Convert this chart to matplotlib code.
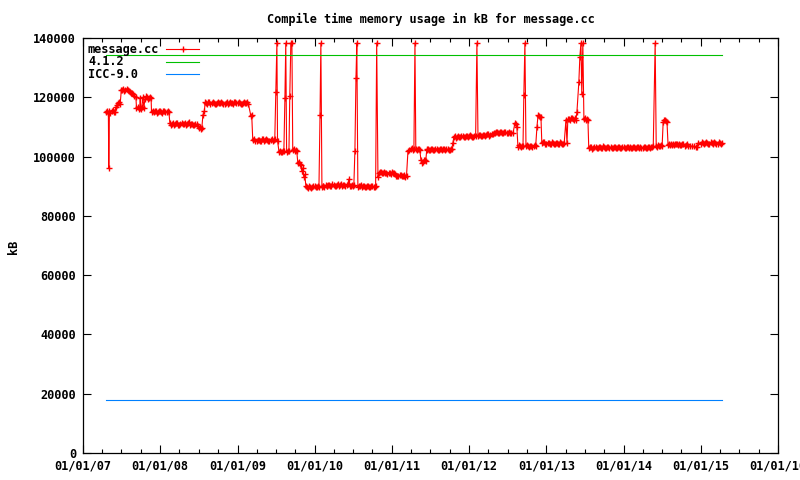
import matplotlib
matplotlib.use("Agg")
import matplotlib.pyplot as plt
import matplotlib.dates as mdates
from matplotlib.font_manager import FontProperties
import pandas as pd

# ---------------- data (message.cc, month-day per year, kB) ----------------
md_2007 = ['04-21', '04-26', '05-01', '05-03', '05-06', '05-11',
           '05-16', '05-21', '05-26', '06-01', '06-06', '06-11',
           '06-16', '06-21', '06-26', '07-01', '07-06', '07-11',
           '07-16', '07-21', '07-26', '08-01', '08-06', '08-11',
           '08-16', '08-21', '08-26', '09-01', '09-08', '09-11',
           '09-16', '09-21', '09-26', '09-29', '10-01', '10-06',
           '10-11', '10-16', '10-21', '10-26', '11-01', '11-06',
           '11-11', '11-16', '11-19', '11-21', '11-26', '12-01',
           '12-06', '12-11', '12-16', '12-21', '12-26']
mv_2007 = [115000, 115400, 114600, 96000, 115500, 114800,
           115300, 115600, 114900, 115200, 116800, 117500,
           118200, 118500, 117800, 122300, 122600, 122800,
           122200, 122400, 122900, 122600, 122100, 121900,
           121600, 121300, 121000, 120600, 120200, 116500,
           116800, 116000, 116400, 119800, 116200, 116600,
           120000, 116500, 119500, 120300, 120000, 119400,
           119600, 120100, 119800, 115200, 115500, 115000,
           115300, 115400, 114800, 114900, 115400]

md_2008 = ['01-01', '01-06', '01-11', '01-16', '01-21', '01-26',
           '02-01', '02-06', '02-11', '02-16', '02-21', '02-26',
           '03-01', '03-06', '03-11', '03-16', '03-21', '03-26',
           '04-01', '04-06', '04-11', '04-16', '04-21', '04-26',
           '05-01', '05-06', '05-11', '05-16', '05-21', '05-26',
           '06-01', '06-06', '06-11', '06-16', '06-21', '06-26',
           '07-01', '07-06', '07-11', '07-16', '07-21', '07-28',
           '08-01', '08-06', '08-11', '08-16', '08-21', '08-26',
           '09-01', '09-06', '09-11', '09-16', '09-21', '09-26',
           '10-01', '10-06', '10-11', '10-16', '10-21', '10-26',
           '11-01', '11-06', '11-11', '11-16', '11-21', '11-26',
           '12-01', '12-06', '12-11', '12-16', '12-21', '12-26']
mv_2008 = [115300, 115000, 114800, 115400, 115300, 114900,
           115000, 115400, 115200, 111200, 110800, 111100,
           111300, 110800, 110900, 111400, 111200, 110800,
           110700, 111100, 111400, 110900, 111000, 111300,
           110600, 111000, 111200, 111500, 110800, 111000,
           111100, 110800, 110700, 111000, 110900, 110400,
           109600, 110000, 109300, 109500, 114000, 115500,
           118300, 118000, 117900, 118300, 118400, 117900,
           118000, 118400, 118200, 117800, 117800, 118200,
           118300, 118000, 118000, 118400, 118200, 117900,
           117900, 118200, 118300, 117900, 118000, 118300,
           118200, 118000, 117900, 118400, 118300, 118000]

md_2009 = ['01-01', '01-06', '01-11', '01-16', '01-21', '01-26',
           '02-01', '02-06', '02-11', '02-16', '02-21', '03-05',
           '03-09', '03-14', '03-21', '03-26', '04-01', '04-06',
           '04-11', '04-16', '04-21', '04-26', '05-01', '05-06',
           '05-11', '05-16', '05-21', '05-26', '06-01', '06-06',
           '06-11', '06-16', '06-21', '06-26', '07-01', '07-06',
           '07-09', '07-16', '07-21', '07-26', '08-01', '08-04',
           '08-08', '08-13', '08-17', '08-21', '08-26', '09-01',
           '09-05', '09-10', '09-15', '09-19', '09-24', '09-29',
           '10-04', '10-08', '10-13', '10-18', '10-22', '10-27',
           '11-01', '11-06', '11-10', '11-15', '11-20', '11-25',
           '12-01', '12-06', '12-11', '12-16', '12-21', '12-26']
mv_2009 = [118000, 118300, 118200, 117800, 117900, 118200,
           118300, 118000, 118000, 118300, 117800, 113700,
           113900, 105500, 105800, 105400, 105300, 105700,
           105700, 105300, 105400, 105800, 105900, 105400,
           105500, 105900, 105600, 105300, 105300, 105700,
           105800, 105400, 105500, 105800, 121700, 138300,
           105400, 101600, 101900, 101500, 101400, 101900,
           101800, 119800, 138300, 101500, 102000, 101900,
           120500, 138300, 138300, 102200, 102400, 102000,
           102300, 101800, 97900, 98300, 97500, 97200,
           95000, 96200, 93200, 94000, 90000, 89800,
           89500, 90000, 89800, 89400, 89600, 90000]

md_2010 = ['01-01', '01-06', '01-11', '01-16', '01-21', '01-26',
           '01-30', '02-04', '02-08', '02-11', '02-16', '02-21',
           '02-26', '03-01', '03-06', '03-11', '03-16', '03-21',
           '03-26', '04-01', '04-06', '04-11', '04-16', '04-21',
           '04-26', '05-01', '05-06', '05-11', '05-16', '05-21',
           '05-26', '06-01', '06-06', '06-12', '06-16', '06-21',
           '06-26', '07-01', '07-05', '07-10', '07-15', '07-19',
           '07-24', '07-28', '08-01', '08-06', '08-11', '08-16',
           '08-21', '08-26', '09-01', '09-06', '09-11', '09-16',
           '09-21', '09-26', '10-01', '10-06', '10-11', '10-16',
           '10-21', '10-27', '11-01', '11-06', '11-11', '11-16',
           '11-21', '11-26', '12-01', '12-06', '12-11', '12-16',
           '12-21', '12-26']
mv_2010 = [90000, 89600, 89700, 90100, 89900, 114000,
           138300, 89800, 90200, 90100, 89900, 90300,
           90000, 90000, 90400, 90500, 90100, 90200,
           90600, 90400, 90000, 90100, 90500, 90600,
           90200, 90300, 90700, 90100, 90400, 90500,
           90100, 90300, 90600, 92400, 90200, 90200,
           90500, 90000, 90300, 102000, 126500, 138300,
           89800, 90200, 90000, 90300, 89700, 90000,
           90100, 89700, 89800, 90200, 90000, 89600,
           89700, 90100, 90100, 89800, 89900, 90200,
           138300, 93000, 94500, 94900, 94700, 94300,
           94300, 94700, 94600, 94300, 94200, 94600,
           94400, 94100]

md_2011 = ['01-01', '01-06', '01-11', '01-16', '01-21', '01-26',
           '02-01', '02-06', '02-11', '02-16', '02-21', '02-26',
           '03-01', '03-06', '03-11', '03-18', '03-24', '04-01',
           '04-05', '04-10', '04-15', '04-20', '04-24', '05-01',
           '05-05', '05-09', '05-13', '05-18', '05-22', '05-27',
           '06-01', '06-06', '06-10', '06-15', '06-18', '06-21',
           '06-26', '07-01', '07-06', '07-11', '07-16', '07-21',
           '07-26', '08-01', '08-06', '08-11', '08-16', '08-21',
           '08-26', '09-01', '09-06', '09-11', '09-16', '09-21',
           '09-26', '10-01', '10-06', '10-11', '10-16', '10-21',
           '10-26', '11-01', '11-06', '11-11', '11-16', '11-21',
           '11-26', '12-01', '12-06', '12-11', '12-16', '12-21',
           '12-26']
mv_2011 = [94700, 94300, 94400, 94000, 93600, 93300,
           93400, 93800, 93700, 93300, 93300, 93700,
           93600, 93200, 93400, 102000, 102300, 102500,
           102800, 102200, 102500, 138300, 102600, 102300,
           102700, 102600, 102100, 99000, 98000, 98300,
           98700, 99000, 98500, 102400, 102200, 102600,
           102300, 102200, 102600, 102500, 102100, 102300,
           102700, 102600, 102200, 102300, 102700, 102600,
           102200, 102400, 102700, 102200, 102400, 102500,
           102100, 102300, 102600, 102500, 104500, 106500,
           106800, 106400, 106700, 106900, 106500, 106700,
           107100, 107000, 106700, 106600, 107000, 107100,
           106700]

md_2012 = ['01-01', '01-06', '01-11', '01-16', '01-21', '01-26',
           '02-01', '02-07', '02-12', '02-16', '02-21', '02-26',
           '03-01', '03-06', '03-11', '03-16', '03-21', '03-26',
           '04-01', '04-06', '04-11', '04-16', '04-21', '04-26',
           '05-01', '05-06', '05-11', '05-16', '05-21', '05-26',
           '06-01', '06-06', '06-11', '06-16', '06-21', '06-26',
           '07-01', '07-06', '07-11', '07-19', '07-27', '08-05',
           '08-10', '08-14', '08-19', '08-24', '08-29', '09-03',
           '09-07', '09-12', '09-16', '09-21', '09-26', '10-01',
           '10-06', '10-11', '10-16', '10-21', '10-26', '11-01',
           '11-06', '11-11', '11-17', '11-22', '11-26', '12-01',
           '12-06', '12-10', '12-16', '12-21', '12-26']
mv_2012 = [106800, 107200, 107000, 106600, 106700, 107100,
           107100, 138300, 107000, 107400, 107300, 106900,
           107000, 107400, 107400, 107000, 107200, 107600,
           107500, 107100, 107200, 107700, 107600, 107900,
           107900, 108400, 108300, 107900, 108000, 108400,
           108200, 107900, 108000, 108400, 108300, 108000,
           108000, 108300, 108100, 108000, 108000, 111400,
           111000, 110000, 103300, 103800, 103600, 103200,
           103400, 103700, 120800, 138300, 103500, 103800,
           103400, 103300, 103700, 103700, 103300, 103400,
           103800, 103600, 110000, 113900, 113700, 113300,
           113200, 104500, 104900, 104800, 104400]

md_2013 = ['01-01', '01-06', '01-11', '01-16', '01-21', '01-26',
           '02-01', '02-06', '02-11', '02-16', '02-21', '02-26',
           '03-01', '03-06', '03-11', '03-16', '03-21', '03-26',
           '04-03', '04-08', '04-12', '04-17', '04-22', '04-27',
           '05-01', '05-06', '05-11', '05-16', '05-20', '05-25',
           '06-03', '06-08', '06-13', '06-17', '06-22', '06-27',
           '07-01', '07-06', '07-11', '07-16', '07-20', '07-25',
           '08-01', '08-06', '08-11', '08-16', '08-21', '08-26',
           '09-01', '09-06', '09-11', '09-16', '09-21', '09-26',
           '10-01', '10-06', '10-11', '10-16', '10-21', '10-26',
           '11-01', '11-06', '11-11', '11-16', '11-21', '11-26',
           '12-01', '12-06', '12-11', '12-16', '12-21', '12-26']
mv_2013 = [104300, 104700, 104700, 104300, 104400, 104800,
           104600, 104200, 104300, 104700, 104700, 104300,
           104400, 104800, 104600, 104200, 104300, 104700,
           112300, 104500, 112600, 112800, 112400, 112900,
           113000, 112600, 112500, 112900, 112300, 115000,
           125000, 133700, 138300, 121000, 138300, 112700,
           112900, 112300, 112700, 112500, 102800, 103200,
           103100, 102700, 102900, 103300, 103300, 102800,
           102800, 103200, 103200, 102800, 103000, 103400,
           103300, 102900, 102900, 103300, 103100, 102800,
           103200, 103000, 102900, 103300, 103100, 102800,
           103000, 103300, 103300, 102900, 102900, 103200]

md_2014 = ['01-01', '01-06', '01-11', '01-16', '01-21', '01-26',
           '02-01', '02-06', '02-11', '02-16', '02-21', '02-26',
           '03-01', '03-06', '03-11', '03-16', '03-21', '03-26',
           '04-01', '04-06', '04-11', '04-16', '04-21', '04-26',
           '05-01', '05-06', '05-11', '05-16', '05-21', '05-30',
           '06-04', '06-08', '06-13', '06-18', '06-23', '06-28',
           '07-02', '07-07', '07-11', '07-16', '07-21', '07-25',
           '07-30', '08-04', '08-08', '08-13', '08-18', '08-23',
           '08-28', '09-02', '09-07', '09-11', '09-16', '09-21',
           '09-26', '10-01', '10-06', '10-11', '10-16', '10-21',
           '10-26', '11-01', '11-11', '11-21', '12-01', '12-08',
           '12-15', '12-19']
mv_2014 = [103200, 102900, 103000, 103300, 103100, 102800,
           103300, 103000, 102900, 103200, 103200, 102800,
           103000, 103300, 103100, 102800, 103300, 103000,
           102900, 103200, 103200, 102900, 103000, 103300,
           103100, 102800, 103300, 103100, 103400, 138300,
           103600, 103200, 103900, 103500, 103400, 103800,
           103600, 111800, 112500, 112300, 111900, 111600,
           104000, 104300, 103900, 104200, 103800, 104300,
           103800, 104100, 104300, 104100, 103800, 104200,
           104000, 103800, 104200, 104100, 103700, 103900,
           104200, 103500, 103500, 103500, 103400, 103200,
           103300, 104600]

md_2015 = ['01-01', '01-06', '01-11', '01-16', '01-21', '01-26',
           '02-01', '02-06', '02-11', '02-16', '02-21', '02-26',
           '03-01', '03-06', '03-11', '03-16', '03-21', '03-26',
           '04-01', '04-06', '04-11']
mv_2015 = [104400, 104800, 104700, 104300, 104500, 104900,
           104600, 104300, 104400, 104800, 104700, 104300,
           104500, 104900, 104600, 104300, 104400, 104800,
           104700, 104400, 104600]

gcc_dates = ['2007-04-21', '2015-04-11']
gcc_values = [134300, 134300]
icc_dates = ['2007-04-21', '2015-04-11']
icc_values = [17900, 17900]

series_labels = ['message.cc', '4.1.2', 'ICC-9.0']
series_colors = ['#ff0000', '#00c000', '#0080ff']
title = 'Compile time memory usage in kB for message.cc'
y_label = 'kB'
x_limits = ['2007-01-01', '2016-01-01']
y_ticks = [0, 20000, 40000, 60000, 80000, 100000, 120000, 140000]

years = {2007: (md_2007, mv_2007), 2008: (md_2008, mv_2008), 2009: (md_2009, mv_2009),
         2010: (md_2010, mv_2010), 2011: (md_2011, mv_2011), 2012: (md_2012, mv_2012),
         2013: (md_2013, mv_2013), 2014: (md_2014, mv_2014), 2015: (md_2015, mv_2015)}
msg_dates, msg_values = [], []
for yr, (dd, vv) in years.items():
    assert len(dd) == len(vv), yr
    msg_dates += [f'{yr}-{d}' for d in dd]
    msg_values += vv

# ---------------- plot ----------------
W, H = 800, 480
fig = plt.figure(figsize=(W / 100, H / 100), dpi=100)
L, R, T, B = 83, 778, 38, 453
ax = fig.add_axes([L / W, (H - B) / H, (R - L) / W, (B - T) / H])

fp = FontProperties(family='DejaVu Sans Mono', weight='bold', size=8.6)

ax.plot(pd.to_datetime(msg_dates), msg_values, color=series_colors[0], lw=0.8,
        marker='+', ms=5.0, mew=1.0, zorder=2)
ax.plot(pd.to_datetime(gcc_dates), gcc_values, color=series_colors[1], lw=0.8, zorder=3)
ax.plot(pd.to_datetime(icc_dates), icc_values, color=series_colors[2], lw=0.8, zorder=3)

ax.set_xlim(pd.to_datetime(x_limits[0]), pd.to_datetime(x_limits[1]))
ax.set_ylim(0, 140000)
ax.set_yticks(y_ticks)
ax.set_yticklabels([str(v) for v in y_ticks], fontproperties=fp)

ax.xaxis.set_major_locator(mdates.YearLocator())
ax.xaxis.set_major_formatter(mdates.DateFormatter('%m/%d/%y'))
ax.xaxis.set_minor_locator(mdates.MonthLocator(bymonth=[4, 7, 10]))
for lab in ax.get_xticklabels():
    lab.set_fontproperties(fp)

ax.tick_params(axis='both', which='both', direction='in', top=True, right=True,
               color='black', width=0.8)
ax.tick_params(axis='both', which='major', length=6, pad=5)
ax.tick_params(axis='x', which='minor', length=3)
for s in ax.spines.values():
    s.set_linewidth(0.9)
    s.set_color('black')

fig.text((L + R) / 2 / W, 1 - 19 / H, title, ha='center', va='center', fontproperties=fp)
fig.text(14 / W, 1 - 247 / H, y_label, ha='center', va='center', rotation=90,
         fontproperties=fp)

# key (gnuplot style: label on the left, sample on the right)
row_y = [49, 61.5, 74]
for i, (lab, col) in enumerate(zip(series_labels, series_colors)):
    yy = 1 - (row_y[i] - T) / (B - T)
    ax.text((88 - L) / (R - L), yy, lab, transform=ax.transAxes, ha='left',
            va='center', fontproperties=fp, zorder=5)
    ax.plot([(166 - L) / (R - L), (199 - L) / (R - L)], [yy, yy], transform=ax.transAxes,
            color=col, lw=0.8, zorder=5)
    if i == 0:
        ax.plot([(182.5 - L) / (R - L)], [yy], transform=ax.transAxes, color=col,
                marker='+', ms=5.0, mew=1.0, zorder=5)

fig.savefig('out.png', dpi=100)
